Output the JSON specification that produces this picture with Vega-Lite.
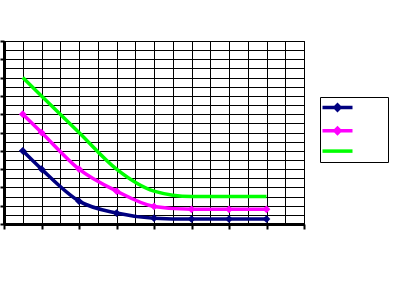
{
  "$schema": "https://vega.github.io/schema/vega-lite/v6.json",
  "width": 300,
  "height": 183,
  "autosize": {"type": "none"},
  "padding": {"left": 4, "top": 41, "right": 107, "bottom": 77},
  "background": "white",
  "config": {"view": {"stroke": "black", "strokeWidth": 1}},
  "data": {
    "values": [
      {"x": 0.5, "y": 4, "series": "Series 1"},
      {"x": 1, "y": 3, "series": "Series 1"},
      {"x": 2, "y": 1.25, "series": "Series 1"},
      {"x": 3, "y": 0.6, "series": "Series 1"},
      {"x": 4, "y": 0.32, "series": "Series 1"},
      {"x": 5, "y": 0.27, "series": "Series 1"},
      {"x": 6, "y": 0.27, "series": "Series 1"},
      {"x": 7, "y": 0.27, "series": "Series 1"},
      {"x": 0.5, "y": 6, "series": "Series 2"},
      {"x": 1, "y": 5, "series": "Series 2"},
      {"x": 2, "y": 3, "series": "Series 2"},
      {"x": 3, "y": 1.8, "series": "Series 2"},
      {"x": 4, "y": 0.96, "series": "Series 2"},
      {"x": 5, "y": 0.8, "series": "Series 2"},
      {"x": 6, "y": 0.8, "series": "Series 2"},
      {"x": 7, "y": 0.8, "series": "Series 2"},
      {"x": 0.5, "y": 8, "series": "Series 3"},
      {"x": 1, "y": 7, "series": "Series 3"},
      {"x": 2, "y": 5, "series": "Series 3"},
      {"x": 3, "y": 3, "series": "Series 3"},
      {"x": 4, "y": 1.8, "series": "Series 3"},
      {"x": 5, "y": 1.5, "series": "Series 3"},
      {"x": 6, "y": 1.5, "series": "Series 3"},
      {"x": 7, "y": 1.5, "series": "Series 3"}
    ]
  },
  "encoding": {
    "x": {
      "field": "x", "type": "quantitative",
      "scale": {"domain": [0, 8], "nice": false},
      "axis": {
        "title": null, "labels": false,
        "values": [0,0.5,1,1.5,2,2.5,3,3.5,4,4.5,5,5.5,6,6.5,7,7.5,8],
        "grid": true, "gridColor": "black", "gridOpacity": 1, "gridWidth": 1,
        "domainColor": "black", "domainWidth": 3,
        "tickColor": "black", "tickSize": 5, "tickWidth": 2,
        "tickOpacity": {"condition": {"test": "datum.value % 1 !== 0", "value": 0}, "value": 1}
      }
    },
    "y": {
      "field": "y", "type": "quantitative",
      "scale": {"domain": [0, 10], "nice": false},
      "axis": {
        "title": null, "labels": false,
        "values": [0,0.5,1,1.5,2,2.5,3,3.5,4,4.5,5,5.5,6,6.5,7,7.5,8,8.5,9,9.5,10],
        "grid": true, "gridColor": "black", "gridOpacity": 1, "gridWidth": 1,
        "domainColor": "black", "domainWidth": 3,
        "tickColor": "black", "tickSize": 4, "tickWidth": 2,
        "tickOpacity": {"condition": {"test": "datum.value % 1 !== 0", "value": 0}, "value": 1}
      }
    }
  },
  "layer": [
    {
      "mark": {"type": "line", "interpolate": "monotone", "strokeWidth": 3.5},
      "encoding": {
        "color": {
          "field": "series", "type": "nominal",
          "scale": {"domain": ["Series 1", "Series 2", "Series 3"], "range": ["#000080", "#FF00FF", "#00FF00"]},
          "legend": {
            "title": null, "orient": "none", "legendX": 316, "legendY": 56,
            "strokeColor": "black", "fillColor": "white", "padding": 3.5,
            "symbolType": "M-3,0H3", "symbolStrokeWidth": 3.5, "symbolSize": 100,
            "symbolFillColor": "transparent", "symbolOffset": 7,
            "rowPadding": 3.3, "labelOffset": 40,
            "labelExpr": "'\u00a0\u00a0\u00a0\u00a0\u00a0\u00a0\u00a0\u00a0\u00a0\u00a0\u00a0\u00a0\u00a0\u00a0\u00a0'", "labelFontSize": 11,
            "encode": {
              "symbols": {
                "update": {
                  "shape": {"signal": "datum.value === 'Series 3' ? 'M-3,0H3' : 'M-3,0H3M0,-0.5L0.5,0L0,0.5L-0.5,0Z'"}
                }
              }
            }
          }
        }
      }
    },
    {
      "transform": [{"filter": "datum.series !== 'Series 3'"}],
      "mark": {"type": "point", "shape": "diamond", "filled": true, "size": 60, "opacity": 1},
      "encoding": {
        "color": {"field": "series", "type": "nominal", "legend": null}
      }
    }
  ]
}
